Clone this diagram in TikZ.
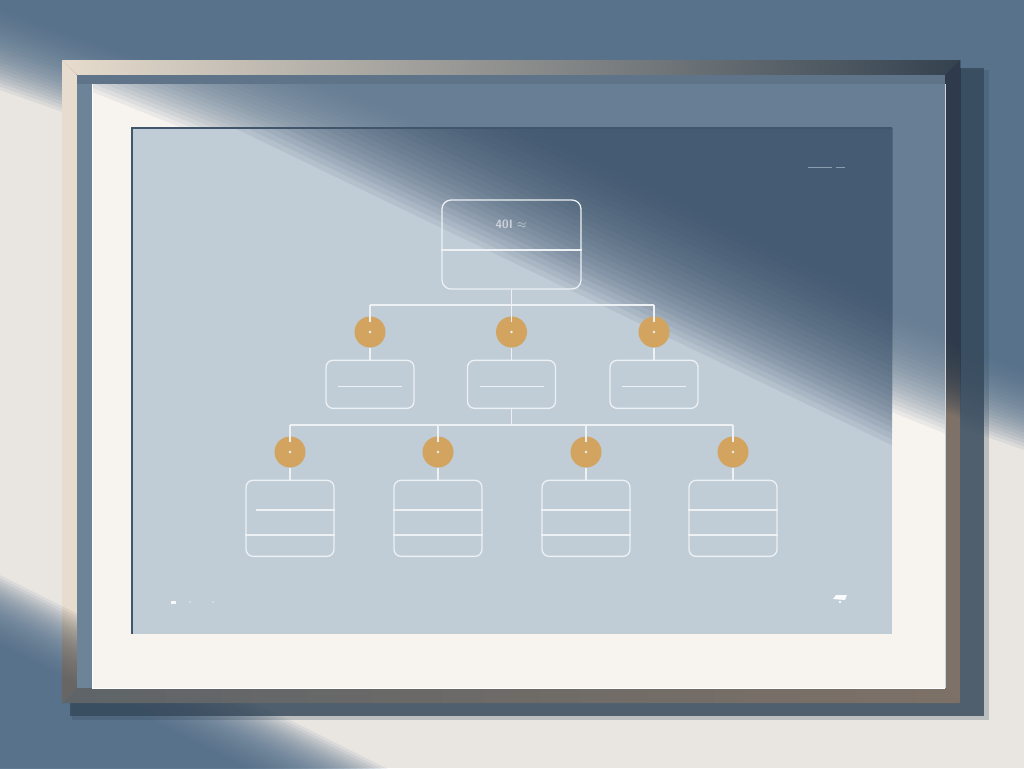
\documentclass[tikz,border=0pt]{standalone}
\usepackage{tikz}
\usetikzlibrary{positioning}

\definecolor{wallcream}{HTML}{E9E6E1}
\definecolor{wallover}{HTML}{4D6A86}
\definecolor{dropshadow}{HTML}{35485A}
\definecolor{framebeige}{HTML}{E7DCCD}
\definecolor{framegray}{HTML}{A9A7A3}
\definecolor{framedark}{HTML}{34424F}
\definecolor{frameover}{HTML}{5F5E5D}
\definecolor{frameright}{HTML}{7E7268}
\definecolor{framerightover}{HTML}{2B3B4C}
\definecolor{framebottomL}{HTML}{5E6468}
\definecolor{framebottomR}{HTML}{7D7167}
\definecolor{bevelblue}{HTML}{6D8398}
\definecolor{beveltop}{HTML}{5F7489}
\definecolor{matcream}{HTML}{F7F4EF}
\definecolor{matover}{HTML}{5C768E}
\definecolor{picblue}{HTML}{C0CDD7}
\definecolor{picover}{HTML}{3C536C}
\definecolor{picedge}{HTML}{42566B}
\definecolor{goldnode}{HTML}{D2A460}
\definecolor{chartline}{HTML}{EEF1F4}
\definecolor{labelgray}{HTML}{CDD3DA}

% shadow above / below a line through (0,#2) and (1024,#3), soft width #4
\newcommand\shadeabove[4]{%
  \foreach \k in {0,...,23}
    \fill[#1, opacity=0.09] (0,{#2-#4/2+\k*#4/23}) -- (1024,{#3-#4/2+\k*#4/23}) -- (1024,-60) -- (0,-60) -- cycle;}
\newcommand\shadebelow[4]{%
  \foreach \k in {0,...,23}
    \fill[#1, opacity=0.09] (0,{#2+#4/2-\k*#4/23}) -- (1024,{#3+#4/2-\k*#4/23}) -- (1024,860) -- (0,860) -- cycle;}

\begin{document}
\begin{tikzpicture}[x=1pt, y=-1pt,
	every node/.style={font=\sffamily},
	orgbox/.style={rectangle, draw=chartline, line width=1.3pt, rounded corners=7pt, minimum width=88pt, minimum height=48pt, inner sep=0pt},
	tallbox/.style={orgbox, minimum height=76pt},
	headbox/.style={orgbox, minimum width=139pt, minimum height=89pt, rounded corners=9pt},
	joint/.style={circle, fill=goldnode, minimum size=31pt, inner sep=0pt},
	link/.style={draw=chartline, line width=1.3pt},
	node distance=12pt
	]

\useasboundingbox (0,0) rectangle (1024,768);

% Wall with light band
\fill[wallcream] (0,0) rectangle (1024,768);
\shadeabove{wallover}{50}{410}{80}
\shadebelow{wallover}{610}{1122}{70}

% Drop shadow of the frame
\fill[dropshadow, opacity=0.25] (72,70) rectangle (989,720);
\fill[dropshadow, opacity=0.8] (70,68) rectangle (984,716);

% Frame faces
\shade[left color=framebeige, middle color=framegray, right color=framedark] (62,60) -- (960,60) -- (945,75) -- (77,75) -- cycle;
\begin{scope}
\clip (62,60) -- (77,75) -- (77,688) -- (62,703) -- cycle;
\fill[framebeige] (62,60) rectangle (77,703);
\shadebelow{frameover}{610}{1122}{70}
\end{scope}
\begin{scope}
\clip (960,60) -- (960,703) -- (945,688) -- (945,75) -- cycle;
\fill[frameright] (945,60) rectangle (960,703);
\shadeabove{framerightover}{45}{405}{70}
\end{scope}
\shade[left color=framebottomL, right color=framebottomR] (62,703) -- (960,703) -- (945,688) -- (77,688) -- cycle;

% Inner bevel
\fill[bevelblue] (77,75) rectangle (92,688);
\fill[beveltop] (77,75) rectangle (945,84);

% Mat
\begin{scope}
\clip (92,84) rectangle (945,688);
\fill[matcream] (92,84) rectangle (945,688);
\shadeabove{matover}{5}{415}{100}
\end{scope}
\draw[white, line width=1pt] (92,84) -- (92,688);
\draw[labelgray, line width=1pt] (945,84) -- (945,688);
\draw[white, line width=1pt] (92,688) -- (945,688);

% Picture
\begin{scope}
\clip (132,128) rectangle (892,634);
\fill[picblue] (132,128) rectangle (892,634);
\shadeabove{picover}{-55}{439}{140}
\end{scope}
\draw[picedge, line width=1.5pt] (132,634) -- (132,128) -- (892,128);

% Head box
\node[headbox] (head) at (511.5,244.5) {};
\node[text=labelgray, font=\sffamily\bfseries\fontsize{12}{12}\selectfont] (headlabel) at (511,224) {40I $\approx$};
\draw[link] ([yshift=-5.5pt]head.west) -- ([yshift=-5.5pt]head.east);

% First level
\coordinate (bus1) at (511.5,305);
\node[joint] (j1) at (370,332) {};
\node[joint] (j2) at (511.5,332) {};
\node[joint] (j3) at (654,332) {};
\node[orgbox, below=of j1] (m1) {};
\node[orgbox, below=of j2] (m2) {};
\node[orgbox, below=of j3] (m3) {};

\draw[link] (head.south) -- (bus1);
\draw[link] (j1 |- bus1) -- (j3 |- bus1);
\foreach \j in {j1,j2,j3}{
	\draw[link] (\j |- bus1) -- ([yshift=-6pt]\j.north);
	\fill[chartline] (\j) circle (1.3pt);
}
\foreach \j/\m in {j1/m1,j2/m2,j3/m3}{
	\draw[link] (\j.south) -- (\m.north);
	\draw[link] ([shift={(-32pt,-2pt)}]\m.center) -- ([shift={(32pt,-2pt)}]\m.center);
}

% Second level
\coordinate (bus2) at (511.5,425);
\node[joint] (j4) at (290,452) {};
\node[joint] (j5) at (438,452) {};
\node[joint] (j6) at (586,452) {};
\node[joint] (j7) at (733,452) {};
\node[tallbox, below=of j4] (b1) {};
\node[tallbox, below=of j5] (b2) {};
\node[tallbox, below=of j6] (b3) {};
\node[tallbox, below=of j7] (b4) {};

\draw[link] (m2.south) -- (bus2);
\draw[link] (j4 |- bus2) -- (j7 |- bus2);
\foreach \j/\b in {j4/b1,j5/b2,j6/b3,j7/b4}{
	\draw[link] (\j |- bus2) -- ([yshift=-6pt]\j.north);
	\fill[chartline] (\j) circle (1.3pt);
	\draw[link] (\j.south) -- (\b.north);
	\draw[link] ([yshift=-16.5pt]\b.west) -- ([yshift=-16.5pt]\b.east);
}
\draw[link] ([shift={(11pt,8.5pt)}]b1.west) -- ([yshift=8.5pt]b1.east);
\foreach \b in {b2,b3,b4}
	\draw[link] ([yshift=8.5pt]\b.west) -- ([yshift=8.5pt]\b.east);

% faint marks
\draw[bevelblue!80!white, line width=0.8pt] (808,167) -- (832,167) (836,167) -- (845,167);
\fill[white!85!picblue] (171,601) rectangle (176,603.5);
\fill[white!40!picblue] (190,602) circle (1.2pt) (213,602) circle (1.2pt);
\fill[white!90!picblue] (833,599) -- (836,595) -- (847,595) -- (845,600) -- cycle;
\fill[white!90!picblue] (840,602) circle (1.4pt);

\end{tikzpicture}
\end{document}
